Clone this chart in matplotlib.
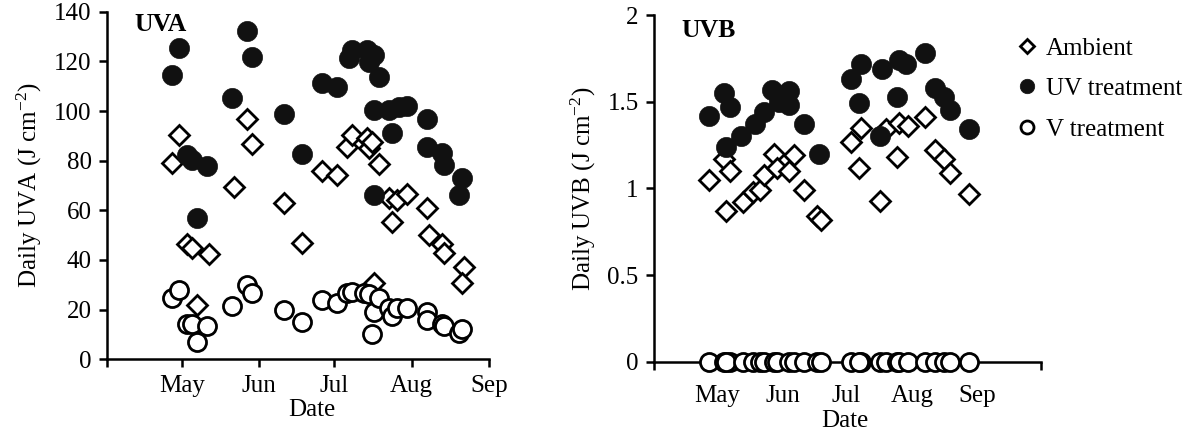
import matplotlib
matplotlib.use("Agg")
import matplotlib.pyplot as plt
import pandas as pd
from matplotlib.ticker import FormatStrFormatter

plt.rcParams["font.family"] = ["Liberation Serif", "DejaVu Serif"]
plt.rcParams["mathtext.fontset"] = "custom"
plt.rcParams["mathtext.rm"] = "Liberation Serif"
plt.rcParams["mathtext.it"] = "Liberation Serif:italic"

YEAR = "2005"
FS = 18

# UVA panel (J cm-2)
uva_ambient_dates = ["04-27", "04-30", "05-03", "05-05", "05-07", "05-12", "05-22", "05-27",
                     "05-29", "06-11", "06-18", "06-26", "07-02", "07-06", "07-08", "07-14",
                     "07-15", "07-16", "07-17", "07-19", "07-23", "07-24", "07-26", "07-30",
                     "08-07", "08-08", "08-13", "08-14", "08-22", "08-21"]
uva_ambient = [78.9, 90.3, 46.3, 44.7, 21.9, 42.4, 69.5, 97.0, 86.7, 63.1, 46.7, 76.0, 74.2,
               85.6, 90.3, 89.3, 85.0, 87.7, 30.9, 78.7, 64.8, 55.4, 64.2, 66.6, 60.8, 50.1,
               46.4, 42.7, 37.3, 30.6]

uva_uv_dates = ["04-27", "04-30", "05-03", "05-05", "05-07", "05-11", "05-21", "05-27",
                "05-29", "06-11", "06-18", "06-26", "07-02", "07-07", "07-08", "07-14",
                "07-15", "07-17", "07-19", "07-17", "07-17", "07-23", "07-24", "07-27",
                "07-30", "08-07", "08-07", "08-13", "08-14", "08-20", "08-21"]
uva_uv = [114.5, 125.5, 82.3, 80.3, 56.8, 78.0, 105.1, 132.3, 121.9, 98.7, 82.7, 111.4, 109.5,
          121.2, 124.6, 124.6, 119.8, 122.5, 113.8, 100.4, 66.2, 100.4, 91.0, 101.7, 102.0,
          96.6, 85.6, 83.0, 78.3, 66.2, 72.9]

uva_v_dates = ["04-27", "04-30", "05-03", "05-05", "05-07", "05-11", "05-21", "05-27",
               "05-29", "06-11", "06-18", "06-26", "07-02", "07-06", "07-08", "07-13",
               "07-15", "07-17", "07-16", "07-19", "07-23", "07-24", "07-26", "07-30",
               "08-07", "08-07", "08-13", "08-14", "08-20", "08-21"]
uva_v = [24.6, 27.9, 14.2, 14.2, 7.1, 13.4, 21.5, 29.9, 26.8, 19.9, 15.0, 23.9, 22.8, 26.6,
         27.2, 26.8, 26.2, 19.2, 10.2, 24.6, 20.5, 17.4, 20.5, 20.5, 19.2, 15.8, 14.2, 13.4,
         10.5, 12.1]

# UVB panel (J cm-2)
uvb_ambient_dates = ["04-27", "05-04", "05-07", "05-05", "05-13", "05-18", "05-21", "05-23",
                     "05-28", "05-29", "06-04", "06-06", "06-11", "06-17", "06-19", "07-03",
                     "07-08", "07-07", "07-17", "07-20", "07-25", "07-26", "07-30", "08-07",
                     "08-12", "08-16", "08-19", "08-28"]
uvb_ambient = [1.05, 1.17, 1.10, 0.87, 0.92, 0.98, 0.99, 1.08, 1.20, 1.12, 1.10, 1.19, 0.99,
               0.84, 0.82, 1.27, 1.35, 1.12, 0.93, 1.34, 1.18, 1.38, 1.36, 1.41, 1.22, 1.17,
               1.09, 0.97]

uvb_uv_dates = ["04-27", "05-04", "05-07", "05-05", "05-12", "05-19", "05-23", "05-27",
                "05-30", "06-04", "06-04", "06-11", "06-18", "07-03", "07-07", "07-08",
                "07-17", "07-18", "07-25", "07-26", "07-29", "08-07", "08-12", "08-16",
                "08-19", "08-28"]
uvb_uv = [1.42, 1.55, 1.47, 1.24, 1.30, 1.37, 1.44, 1.57, 1.50, 1.48, 1.56, 1.37, 1.20, 1.63,
          1.49, 1.72, 1.30, 1.69, 1.53, 1.74, 1.72, 1.78, 1.58, 1.53, 1.45, 1.34]

uvb_v_dates = uvb_ambient_dates
uvb_v = [0.0] * len(uvb_v_dates)

month_labels = ["May", "Jun", "Jul", "Aug", "Sep"]
series_labels = ["Ambient", "UV treatment", "V treatment"]


def to_dates(days):
    return pd.to_datetime([f"{YEAR}-{d}" for d in days])


def draw_series(ax, ambient, uv, v):
    ax.plot(to_dates(ambient[0]), ambient[1], linestyle="none", marker="D", markersize=10,
            markerfacecolor="white", markeredgecolor="black", markeredgewidth=2.0,
            clip_on=False, zorder=3, label=series_labels[0])
    ax.plot(to_dates(uv[0]), uv[1], linestyle="none", marker="o", markersize=14.5,
            markerfacecolor="#111111", markeredgecolor="#111111", markeredgewidth=0.5,
            clip_on=False, zorder=4, label=series_labels[1])
    ax.plot(to_dates(v[0]), v[1], linestyle="none", marker="o", markersize=13,
            markerfacecolor="white", markeredgecolor="black", markeredgewidth=2.0,
            clip_on=False, zorder=5, label=series_labels[2])


def style_axis(ax):
    for side in ["top", "right"]:
        ax.spines[side].set_visible(False)
    for side in ["left", "bottom"]:
        ax.spines[side].set_linewidth(1.8)
    ax.tick_params(which="major", direction="out", length=6, width=1.8, labelsize=FS, pad=5)


fig = plt.figure(figsize=(11.9, 4.36), dpi=100)

# left panel
ax1 = fig.add_axes([0.0899, 0.176, 0.321, 0.797])
draw_series(ax1, (uva_ambient_dates, uva_ambient), (uva_uv_dates, uva_uv),
            (uva_v_dates, uva_v))
style_axis(ax1)
ax1.set_xlim(to_dates(["04-01"])[0], to_dates(["09-01"])[0])
ax1.set_ylim(0, 140)
ax1.set_yticks(range(0, 141, 20))
ax1.set_xticks(to_dates(["04-01", "05-01", "06-01", "07-01", "08-01", "09-01"]))
ax1.set_xticklabels([""] + month_labels)
ax1.set_ylabel("Daily UVA (J cm$^{-2}$)", fontsize=FS, labelpad=7)
ax1.set_xlabel("Date", fontsize=FS)
ax1.xaxis.label.set_va("center")
ax1.xaxis.set_label_coords(0.537, -0.146)
ax1.text(0.073, 0.962, "UVA", transform=ax1.transAxes, fontsize=18.5, fontweight="bold",
         va="center", ha="left")

# right panel
ax2 = fig.add_axes([0.5496, 0.1704, 0.325, 0.795])
draw_series(ax2, (uvb_ambient_dates, uvb_ambient), (uvb_uv_dates, uvb_uv),
            (uvb_v_dates, uvb_v))
style_axis(ax2)
ax2.set_xlim(to_dates(["04-01"])[0], to_dates(["10-01"])[0])
ax2.set_ylim(0, 2)
ax2.set_yticks([0, 0.5, 1, 1.5, 2])
ax2.yaxis.set_major_formatter(FormatStrFormatter("%g"))
ax2.set_xticks(to_dates(["04-01", "10-01"]))
ax2.set_xticklabels(["", ""])
ax2.set_xticks(to_dates(["05-01", "06-01", "07-01", "08-01", "09-01"]), minor=True)
ax2.set_xticklabels(month_labels, minor=True)
ax2.tick_params(axis="x", which="minor", length=0, labelsize=FS, pad=17)
ax2.set_ylabel("Daily UVB (J cm$^{-2}$)", fontsize=FS, labelpad=7)
ax2.set_xlabel("Date", fontsize=FS)
ax2.xaxis.label.set_va("center")
ax2.xaxis.set_label_coords(0.494, -0.170)
ax2.text(0.072, 0.955, "UVB", transform=ax2.transAxes, fontsize=18.5, fontweight="bold",
         va="center", ha="left")

handles, labels = ax2.get_legend_handles_labels()
fig.legend(handles, labels, loc="upper left", bbox_to_anchor=(0.855, 0.915), frameon=False,
           fontsize=FS, markerscale=0.72, handlelength=0.8, handletextpad=0.35,
           labelspacing=0.72, borderpad=0, borderaxespad=0)

fig.savefig("out.png", dpi=100)
